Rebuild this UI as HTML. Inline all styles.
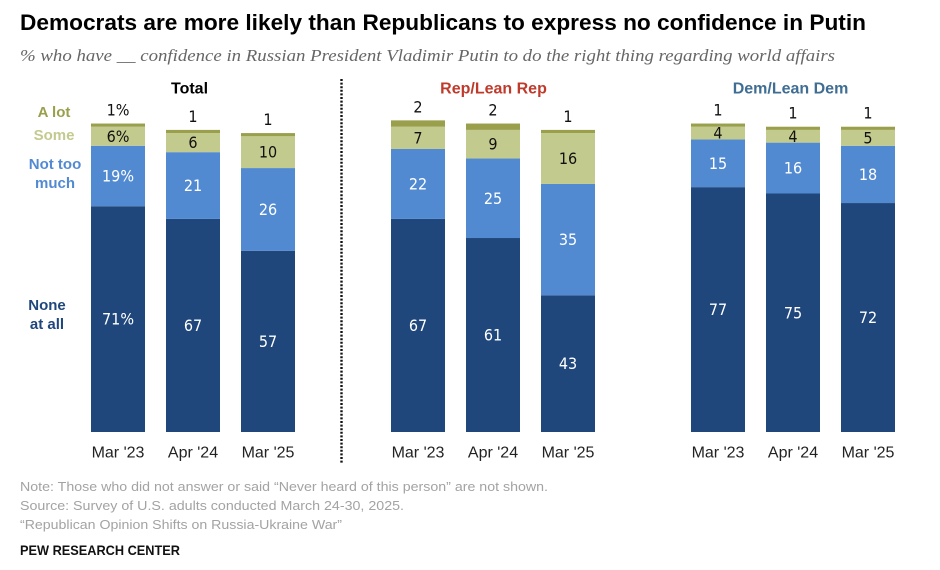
<!DOCTYPE html>
<html lang="en">
<head>
<meta charset="utf-8">
<title>Democrats are more likely than Republicans to express no confidence in Putin</title>
<style>
html,body{margin:0;padding:0;background:#fff;width:940px;height:570px;overflow:hidden}
svg{display:block}
text{font-family:"Liberation Sans",sans-serif}
.val{font-family:"DejaVu Sans Condensed","DejaVu Sans","Liberation Sans",sans-serif;font-stretch:condensed;font-size:16px;text-anchor:middle}
.cat{font-size:16px;fill:#222;text-anchor:middle}
.leg{font-size:15px;font-weight:bold;text-anchor:middle}
.hdr{font-size:16px;font-weight:bold;text-anchor:middle}
.note{font-size:13.3px;fill:#a3a3a3}
</style>
</head>
<body>
<svg id="chart" width="940" height="570" viewBox="0 0 940 570" xmlns="http://www.w3.org/2000/svg">
  <text x="20" y="30" font-size="22.6" font-weight="bold" fill="#000" textLength="846" lengthAdjust="spacingAndGlyphs">Democrats are more likely than Republicans to express no confidence in Putin</text>
  <text x="20" y="61" font-size="17.3" font-style="italic" fill="#666" style="font-family:'Liberation Serif',serif" textLength="815" lengthAdjust="spacingAndGlyphs">% who have __ confidence in Russian President Vladimir Putin to do the right thing regarding world affairs</text>

  <line x1="341.5" y1="79" x2="341.5" y2="464" stroke="#111" stroke-width="2.4" stroke-dasharray="2 1.6"/>

  <text class="leg" x="54" y="117" fill="#9a9f4c">A lot</text>
  <text class="leg" x="54" y="140" fill="#c3ca8e">Some</text>
  <text class="leg" x="55" y="169" fill="#528ad2">Not too</text>
  <text class="leg" x="55" y="188" fill="#528ad2">much</text>
  <text class="leg" x="47" y="310" fill="#1f477b">None</text>
  <text class="leg" x="47" y="329" fill="#1f477b">at all</text>

  <g id="marks"></g>

  <text class="note" x="20" y="491" textLength="528" lengthAdjust="spacingAndGlyphs">Note: Those who did not answer or said “Never heard of this person” are not shown.</text>
  <text class="note" x="20" y="510" textLength="384" lengthAdjust="spacingAndGlyphs">Source: Survey of U.S. adults conducted March 24-30, 2025.</text>
  <text class="note" x="20" y="529" textLength="322" lengthAdjust="spacingAndGlyphs">“Republican Opinion Shifts on Russia-Ukraine War”</text>
  <text x="20" y="555" font-size="13.6" font-weight="bold" fill="#111" textLength="160" lengthAdjust="spacingAndGlyphs">PEW RESEARCH CENTER</text>
</svg>
<script>
var categories = ["Mar '23", "Apr '24", "Mar '25"];
var panelTitles = ["Total", "Rep/Lean Rep", "Dem/Lean Dem"];
var noneAtAll = [[71, 67, 57], [67, 61, 43], [77, 75, 72]];
var notTooMuch = [[19, 21, 26], [22, 25, 35], [15, 16, 18]];
var some = [[6, 6, 10], [7, 9, 16], [4, 4, 5]];
var aLot = [[1, 1, 1], [2, 2, 1], [1, 1, 1]];

var NS = 'http://www.w3.org/2000/svg';
var marks = document.getElementById('marks');
var baseY = 432;
var unit = 3.18;
var barW = 54;
var panelX = [91, 391, 691];
var step = 75;
var titleColors = ['#000', '#bf3a2b', '#3f6d93'];
var titleX = [189.5, 493.5, 790.5];

function yScale(v) { return baseY - v * unit; }
function xScale(p, c) { return panelX[p] + c * step; }

function addRect(x, top, bottom, fill) {
  var r = document.createElementNS(NS, 'rect');
  r.setAttribute('x', x);
  r.setAttribute('y', top);
  r.setAttribute('width', barW);
  r.setAttribute('height', bottom - top);
  r.setAttribute('fill', fill);
  
  
  marks.appendChild(r);
}
function addText(x, y, str, cls, fill) {
  var t = document.createElementNS(NS, 'text');
  t.setAttribute('x', x);
  t.setAttribute('y', y);
  t.setAttribute('class', cls);
  if (fill) t.setAttribute('fill', fill);
  
  
  t.textContent = str;
  marks.appendChild(t);
}

panelTitles.forEach(function (title, p) {
  addText(titleX[p], 93.5, title, 'hdr', titleColors[p]);
  categories.forEach(function (cat, c) {
    var x = xScale(p, c);
    var cx = x + barW / 2;
    var pct = (p === 0 && c === 0) ? '%' : '';
    var v1 = noneAtAll[p][c];
    var v2 = notTooMuch[p][c];
    var v3 = some[p][c];
    var v4 = aLot[p][c];
    var y1 = yScale(v1);
    var y2 = yScale(v1 + v2);
    var y3 = yScale(v1 + v2 + v3);
    var y4 = yScale(v1 + v2 + v3 + v4);
    addRect(x, y1, baseY, '#1f477b');
    addRect(x, y2, y1, '#528ad2');
    addRect(x, y3, y2, '#c3ca8e');
    addRect(x, y4, y3, '#9a9f4c');
    addText(cx, (y1 + baseY) / 2 + 5.5, v1 + pct, 'val', '#fff');
    addText(cx, (y2 + y1) / 2 + 5.5, v2 + pct, 'val', '#fff');
    addText(cx, (y3 + y2) / 2 + 5.5, v3 + pct, 'val', '#111');
    addText(cx, y4 - 8, v4 + pct, 'val', '#111');
    addText(cx, 457.5, cat, 'cat');
  });
});
</script>
</body>
</html>
